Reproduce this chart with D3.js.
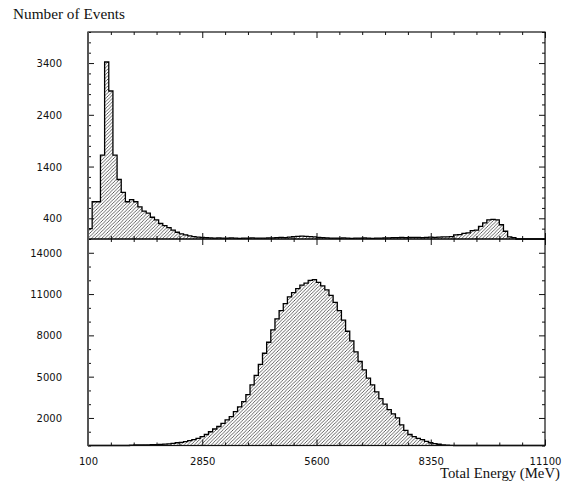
<!DOCTYPE html>
<html>
<head>
<meta charset="utf-8">
<script src="https://cdn.jsdelivr.net/npm/d3@7"></script>
<style>
  html, body { margin: 0; padding: 0; background: #fff; }
  svg { display: block; }
</style>
</head>
<body>
<svg id="chart" width="563" height="491"></svg>
<script>
// ---------------- DATA ----------------
const binStart = 100;      // MeV, lower edge of first bin
const binWidth = 100;      // MeV per bin
const xDomain = [100, 11100];

// upper panel counts (110 bins of 100 MeV)
const upperCounts = [
  200, 720, 720, 1620, 3420, 2860, 1620, 1150, 900, 720,
  760, 720, 620, 540, 500, 420, 370, 300, 260, 220,
  170, 130, 100, 80, 60, 45, 35, 30, 25,
  22, 18, 20, 15, 18, 20, 16, 14, 18, 15, 20, 17, 15, 18, 22, 20, 25, 30, 28,
  35, 45, 50, 55, 50, 45, 40, 30, 25,
  20, 18, 15, 18, 20, 15, 12, 15, 18, 20, 15, 12, 15, 18, 20, 22, 25, 28,
  30, 28, 30, 32, 30, 28, 32, 35, 30, 35,
  40, 42, 45,
  80, 85,
  110, 120,
  160, 170,
  245, 310, 370, 380, 370, 275, 150, 40, 25,
  0, 0, 0, 0, 0, 0, 0
];

// lower panel counts (110 bins of 100 MeV)
const lowerCounts = [
  0, 0, 0, 0, 0, 0, 0, 0, 0, 0,
  30, 40, 40, 50, 50, 60, 60,
  80, 100, 120, 150,
  200, 220, 280, 350, 420, 520, 650, 800, 1000, 1200, 1380, 1600, 1860, 2100, 2460, 2800, 3180,
  3700, 4400, 5100, 5900, 6700, 7500, 8400, 9200, 9800, 10300, 10800, 11100, 11400, 11650,
  11800, 12000, 12050, 11850, 11600, 11300, 10900, 10400, 9800,
  9100, 8300, 7600, 6800, 6100, 5500, 4900, 4400, 3900, 3400, 3000, 2600, 2300, 2000, 1500, 1100,
  800, 650, 520, 420, 300, 200, 130, 90, 50, 30, 15,
  0, 0, 0, 0, 0, 0, 0, 0, 0, 0, 0, 0, 0, 0, 0, 0, 0, 0, 0, 0, 0, 0
];

const upperDomain = [0, 4000];
const lowerDomain = [0, 15000];
const upperTickValues = [400, 1400, 2400, 3400];
const upperTickLabels = ["400", "1400", "2400", "3400"];
const lowerTickValues = [2000, 5000, 8000, 11000, 14000];
const lowerTickLabels = ["2000", "5000", "8000", "11000", "14000"];
const xTickValues = [100, 2850, 5600, 8350, 11100];
const xTickLabels = ["100", "2850", "5600", "8350", "11100"];
const yTitle = "Number of Events";
const xTitle = "Total Energy (MeV)";

// ---------------- LAYOUT ----------------
const left = 88, right = 545;
const upperTop = 32, mid = 239, lowerBottom = 445.5;

const svg = d3.select("#chart");
const x = d3.scaleLinear().domain(xDomain).range([left, right]);
const yU = d3.scaleLinear().domain(upperDomain).range([mid, upperTop]);
const yL = d3.scaleLinear().domain(lowerDomain).range([lowerBottom, mid]);

// hatch pattern
const defs = svg.append("defs");
const pat = defs.append("pattern")
  .attr("id", "hatch")
  .attr("patternUnits", "userSpaceOnUse")
  .attr("width", 3.4).attr("height", 3.4);
pat.append("path")
  .attr("d", "M-0.85,0.85 L0.85,-0.85 M0,3.4 L3.4,0 M2.55,4.25 L4.25,2.55")
  .attr("stroke", "#222").attr("stroke-width", 0.7);

function drawHist(counts, y) {
  const pts = counts.map((v, i) => ({x0: binStart + i * binWidth, v}));
  pts.push({x0: binStart + counts.length * binWidth, v: counts[counts.length - 1]});
  const area = d3.area()
    .x(d => x(d.x0)).y0(y(0)).y1(d => y(d.v))
    .curve(d3.curveStepAfter);
  const line = d3.line()
    .x(d => x(d.x0)).y(d => y(d.v))
    .curve(d3.curveStepAfter);
  svg.append("path").datum(pts)
    .attr("d", area)
    .attr("fill", "url(#hatch)");
  svg.append("path").datum(pts)
    .attr("d", line)
    .attr("fill", "none")
    .attr("stroke", "#000")
    .attr("stroke-width", 1.3);
}

drawHist(upperCounts, yU);
drawHist(lowerCounts, yL);

// ---------------- AXES / FRAME ----------------
const font = "'DejaVu Sans', sans-serif";

function yAxes(y, tickVals, tickLabels, minorStep, domain) {
  const minor = d3.range(domain[0], domain[1] + 1e-9, minorStep);
  const majorSet = new Set(tickVals);
  svg.append("g").attr("transform", `translate(${left},0)`)
    .call(d3.axisRight(y).tickValues(minor.filter(v => !majorSet.has(v))).tickSize(3).tickFormat(""))
    .call(g => g.select(".domain").remove());
  svg.append("g").attr("transform", `translate(${left},0)`)
    .call(d3.axisRight(y).tickValues(tickVals).tickSize(6).tickFormat(""))
    .call(g => g.select(".domain").remove());
  svg.append("g").attr("transform", `translate(${right},0)`)
    .call(d3.axisLeft(y).tickValues(minor.filter(v => !majorSet.has(v))).tickSize(3).tickFormat(""))
    .call(g => g.select(".domain").remove());
  svg.append("g").attr("transform", `translate(${right},0)`)
    .call(d3.axisLeft(y).tickValues(tickVals).tickSize(6).tickFormat(""))
    .call(g => g.select(".domain").remove());
  svg.append("g").attr("transform", `translate(${left - 26},0)`)
    .call(d3.axisLeft(y).tickValues(tickVals).tickSize(0)
      .tickFormat((d, i) => tickLabels[i]))
    .call(g => g.select(".domain").remove())
    .call(g => g.selectAll("text").attr("x", 0).attr("dy", "0.35em")
      .attr("font-family", font).attr("font-size", 10).attr("fill", "#111"));
}

yAxes(yU, upperTickValues, upperTickLabels, 200, upperDomain);
yAxes(yL, lowerTickValues, lowerTickLabels, 1000, lowerDomain);

function xTicks(yPos, dir) {
  const minor = d3.range(xDomain[0], xDomain[1] + 1e-9, 550);
  const majorSet = new Set(xTickValues);
  const axisFn = dir === "down" ? d3.axisBottom : d3.axisTop;
  svg.append("g").attr("transform", `translate(0,${yPos})`)
    .call(axisFn(x).tickValues(minor.filter(v => !majorSet.has(v))).tickSize(3).tickFormat(""))
    .call(g => g.select(".domain").remove());
  svg.append("g").attr("transform", `translate(0,${yPos})`)
    .call(axisFn(x).tickValues(xTickValues).tickSize(6).tickFormat(""))
    .call(g => g.select(".domain").remove());
}
xTicks(upperTop, "down");
xTicks(mid, "up");
xTicks(mid, "down");
xTicks(lowerBottom, "up");

svg.selectAll(".tick line").attr("stroke", "#111").attr("stroke-width", 1);

// frame lines
svg.append("rect")
  .attr("x", left).attr("y", upperTop)
  .attr("width", right - left).attr("height", lowerBottom - upperTop)
  .attr("fill", "none").attr("stroke", "#111").attr("stroke-width", 1.2);
svg.append("line")
  .attr("x1", left).attr("x2", right).attr("y1", mid).attr("y2", mid)
  .attr("stroke", "#000").attr("stroke-width", 1.5);
svg.append("line")
  .attr("x1", left).attr("x2", left).attr("y1", upperTop).attr("y2", lowerBottom)
  .attr("stroke", "#555").attr("stroke-width", 2);

// x tick labels
svg.append("g").attr("transform", `translate(0,${lowerBottom + 12})`)
  .call(d3.axisBottom(x).tickValues(xTickValues).tickSize(0)
    .tickFormat((d, i) => xTickLabels[i]))
  .call(g => g.select(".domain").remove())
  .call(g => g.selectAll("text").attr("y", 0).attr("dy", "0.71em")
    .attr("font-family", font).attr("font-size", 10).attr("fill", "#111"));

// titles
svg.append("text")
  .attr("x", 13).attr("y", 19)
  .attr("font-family", "'Liberation Serif', serif").attr("font-size", 14)
  .attr("textLength", 112).attr("lengthAdjust", "spacingAndGlyphs")
  .attr("fill", "#111")
  .text(yTitle);
svg.append("text")
  .attr("x", 440).attr("y", 478)
  .attr("font-family", "'Liberation Serif', serif").attr("font-size", 14)
  .attr("textLength", 120).attr("lengthAdjust", "spacingAndGlyphs")
  .attr("fill", "#111")
  .text(xTitle);
</script>
</body>
</html>
